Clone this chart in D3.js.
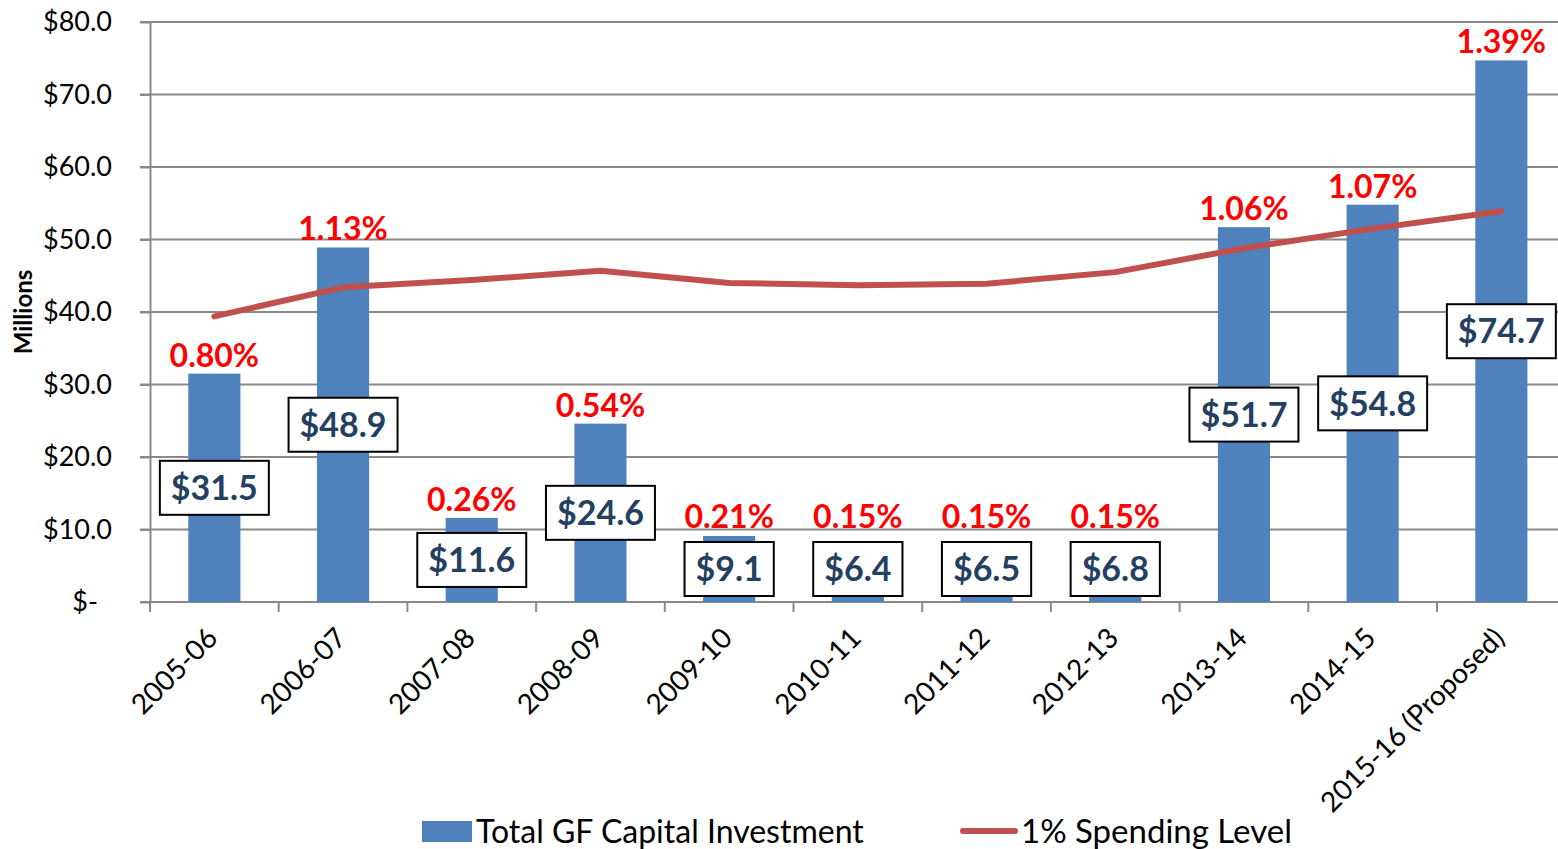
<!DOCTYPE html>
<html lang="en">
<head>
  <meta charset="UTF-8">
  <title>GF Capital Investment</title>
  <script src="https://d3js.org/d3.v7.min.js"></script>
  <style>
    body { margin: 0; background: #fff; }
    text { font-family: Lato, "Open Sans", sans-serif; }
  </style>
</head>
<body>
  <script>
    // data
    const categories = ["2005-06", "2006-07", "2007-08", "2008-09", "2009-10", "2010-11",
      "2011-12", "2012-13", "2013-14", "2014-15", "2015-16 (Proposed)"];
    const investment = [31.5, 48.9, 11.6, 24.6, 9.1, 6.4, 6.5, 6.8, 51.7, 54.8, 74.7];
    const spendingLevel = [39.4, 43.4, 44.4, 45.7, 44.0, 43.7, 43.9, 45.5, 48.8, 51.5, 53.9];
    const percentLabels = ["0.80%", "1.13%", "0.26%", "0.54%", "0.21%", "0.15%",
      "0.15%", "0.15%", "1.06%", "1.07%", "1.39%"];
    const yTicks = [0, 10, 20, 30, 40, 50, 60, 70, 80];
    const yTickLabels = ["$-", "$10.0", "$20.0", "$30.0", "$40.0", "$50.0", "$60.0", "$70.0", "$80.0"];

    const width = 1558;
    const height = 849;
    const plotLeft = 150, plotRight = 1558, plotTop = 22, plotBottom = 602;

    const barColor = "#4f81bd";
    const lineColor = "#c0504d";
    const gridColor = "#898989";

    const svg = d3.select("body")
      .append("svg")
      .attr("width", width)
      .attr("height", height);

    const x = d3.scaleBand()
      .domain(categories)
      .range([plotLeft, plotLeft + 128.7 * categories.length]);

    const y = d3.scaleLinear()
      .domain([0, 80])
      .range([plotBottom, plotTop]);

    const barW = x.bandwidth() * 0.405;
    const cx = d => x(d) + x.bandwidth() / 2;

    // gridlines
    svg.append("g")
      .selectAll("line")
      .data(yTicks.filter(d => d > 0))
      .enter()
      .append("line")
      .attr("x1", plotLeft - 10)
      .attr("x2", plotRight)
      .attr("y1", d => y(d))
      .attr("y2", d => y(d))
      .attr("stroke", gridColor)
      .attr("stroke-width", 2);

    // y axis
    const yAxis = svg.append("g")
      .attr("transform", `translate(${plotLeft},0)`)
      .call(d3.axisLeft(y)
        .tickValues(yTicks)
        .tickFormat((d, i) => yTickLabels[i])
        .tickSizeInner(10)
        .tickSizeOuter(0)
        .tickPadding(28));
    yAxis.select(".domain").attr("stroke", gridColor).attr("stroke-width", 2);
    yAxis.selectAll(".tick line").attr("stroke", gridColor).attr("stroke-width", 2);
    yAxis.selectAll(".tick text")
      .attr("font-size", 27)
      .attr("fill", "#000")
      .attr("font-family", "Lato")
      .attr("dx", d => d === 0 ? -14 : 0);

    // x axis
    const xAxis = svg.append("g")
      .attr("transform", `translate(0,${plotBottom})`);
    xAxis.append("line")
      .attr("x1", plotLeft - 10)
      .attr("x2", plotRight)
      .attr("stroke", gridColor)
      .attr("stroke-width", 2);
    xAxis.selectAll("line.tick")
      .data(categories)
      .enter()
      .append("line")
      .attr("class", "tick")
      .attr("x1", d => x(d))
      .attr("x2", d => x(d))
      .attr("y1", 0)
      .attr("y2", 10)
      .attr("stroke", gridColor)
      .attr("stroke-width", 2);
    xAxis.selectAll("text")
      .data(categories)
      .enter()
      .append("text")
      .attr("transform", d => `translate(${cx(d) - 9},${24}) rotate(-45)`)
      .attr("text-anchor", "end")
      .attr("dy", "0.7em")
      .attr("font-size", 28)
      .text(d => d);

    // y axis title
    svg.append("text")
      .attr("transform", `translate(32,${(plotTop + plotBottom) / 2}) rotate(-90)`)
      .attr("text-anchor", "middle")
      .attr("font-size", 24)
      .attr("font-weight", "bold")
      .text("Millions");

    // bars
    svg.append("g")
      .selectAll("rect")
      .data(investment)
      .enter()
      .append("rect")
      .attr("x", (d, i) => cx(categories[i]) - barW / 2)
      .attr("y", d => y(d))
      .attr("width", barW)
      .attr("height", d => plotBottom - y(d))
      .attr("fill", barColor);

    // 1% spending line
    const line = d3.line()
      .x((d, i) => cx(categories[i]))
      .y(d => y(d));
    svg.append("path")
      .datum(spendingLevel)
      .attr("d", line)
      .attr("fill", "none")
      .attr("stroke", lineColor)
      .attr("stroke-width", 6)
      .attr("stroke-linecap", "round")
      .attr("stroke-linejoin", "round");

    // value boxes
    const boxH = 54;
    const boxMid = d => Math.min((y(d) + plotBottom) / 2, plotBottom - boxH / 2 - 6);
    const labels = svg.append("g")
      .selectAll("g")
      .data(investment)
      .enter()
      .append("g")
      .attr("transform", (d, i) => `translate(${cx(categories[i])},${boxMid(d)})`);
    labels.append("rect")
      .attr("fill", "#fff")
      .attr("stroke", "#000")
      .attr("stroke-width", 2);
    labels.append("text")
      .attr("text-anchor", "middle")
      .attr("dy", "0.36em")
      .attr("font-size", 34)
      .attr("font-weight", "bold")
      .attr("fill", "#243f60")
      .text(d => "$" + d.toFixed(1));
    labels.each(function() {
      const g = d3.select(this);
      const bb = g.select("text").node().getBBox();
      const w = bb.width + 22;
      g.select("rect")
        .attr("x", -w / 2)
        .attr("y", -boxH / 2)
        .attr("width", w)
        .attr("height", boxH);
    });

    // percent labels
    svg.append("g")
      .selectAll("text")
      .data(investment)
      .enter()
      .append("text")
      .attr("x", (d, i) => cx(categories[i]))
      .attr("y", d => Math.min(y(d) - 7, boxMid(d) - boxH / 2 - 14))
      .attr("text-anchor", "middle")
      .attr("font-size", 32)
      .attr("font-weight", "bold")
      .attr("fill", "#ff0000")
      .text((d, i) => percentLabels[i]);

    // legend
    const legend = svg.append("g");
    legend.append("rect")
      .attr("x", 422).attr("y", 821)
      .attr("width", 50).attr("height", 21)
      .attr("fill", barColor);
    legend.append("text")
      .attr("x", 476).attr("y", 843)
      .attr("font-size", 32)
      .text("Total GF Capital Investment");
    legend.append("line")
      .attr("x1", 963).attr("x2", 1015)
      .attr("y1", 831).attr("y2", 831)
      .attr("stroke", lineColor)
      .attr("stroke-width", 6)
      .attr("stroke-linecap", "round");
    legend.append("text")
      .attr("x", 1021).attr("y", 843)
      .attr("font-size", 33)
      .text("1% Spending Level");
  </script>
</body>
</html>
